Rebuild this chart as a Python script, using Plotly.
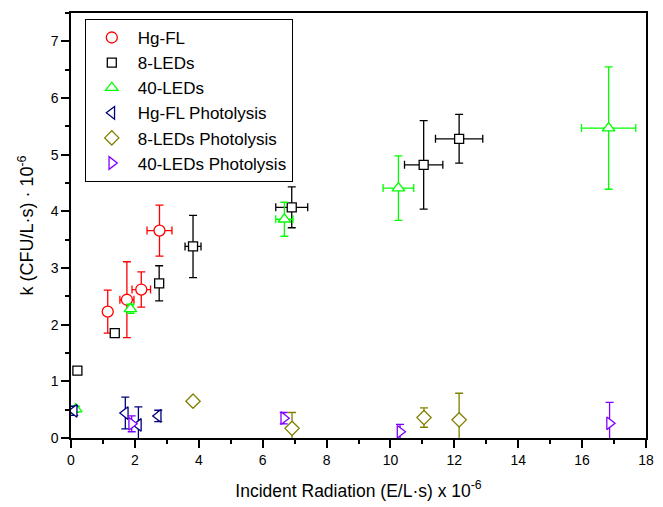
import plotly.graph_objects as go

# Hg-FL
hg_x = [1.15, 1.75, 2.20, 2.77]
hg_y = [2.23, 2.44, 2.62, 3.66]
hg_yerr = [0.38, 0.67, 0.31, 0.45]
hg_xerr = [0.0, 0.22, 0.29, 0.39]

# 8-LEDs
l8_x = [0.20, 1.37, 2.76, 3.82, 6.91, 11.04, 12.15]
l8_y = [1.19, 1.85, 2.73, 3.38, 4.07, 4.82, 5.28]
l8_yerr = [0.05, 0.0, 0.31, 0.55, 0.36, 0.78, 0.43]
l8_xerr = [0.05, 0.0, 0.05, 0.25, 0.50, 0.60, 0.74]

# 40-LEDs
l40_x = [0.15, 1.86, 6.68, 10.25, 16.83]
l40_y = [0.51, 2.28, 3.86, 4.41, 5.47]
l40_yerr = [0.05, 0.08, 0.30, 0.57, 1.08]
l40_xerr = [0.05, 0.08, 0.27, 0.48, 0.85]

# Hg-FL Photolysis
hgp_x = [0.10, 1.70, 2.11, 2.73]
hgp_y = [0.48, 0.44, 0.23, 0.39]
hgp_yerr = [0.08, 0.28, 0.32, 0.10]

# 8-LEDs Photolysis
l8p_x = [3.82, 6.92, 11.05, 12.15]
l8p_y = [0.65, 0.17, 0.36, 0.32]
l8p_yerr = [0.05, 0.28, 0.17, 0.47]

# 40-LEDs Photolysis
l40p_x = [1.90, 6.66, 10.30, 16.86]
l40p_y = [0.25, 0.35, 0.11, 0.26]
l40p_yerr = [0.14, 0.10, 0.13, 0.37]

FONT = "Liberation Sans, Arial, sans-serif"

def trace(name, x, y, yerr, xerr, color, symbol, size):
    t = dict(
        x=x, y=y, name=name, mode="markers",
        marker=dict(symbol=symbol, size=size, color="white",
                    line=dict(color=color, width=1.3)),
        error_y=dict(type="data", array=yerr, visible=True, color=color,
                     thickness=1.3, width=4),
    )
    if xerr is not None:
        t["error_x"] = dict(type="data", array=xerr, visible=True, color=color,
                            thickness=1.3, width=4)
    return go.Scatter(**t)

fig = go.Figure()
fig.add_trace(trace("Hg-FL", hg_x, hg_y, hg_yerr, hg_xerr, "#FF0000", "circle", 11))
fig.add_trace(trace("8-LEDs", l8_x, l8_y, l8_yerr, l8_xerr, "#000000", "square", 9))
fig.add_trace(trace("40-LEDs", l40_x, l40_y, l40_yerr, l40_xerr, "#00FF00", "triangle-up", 11))
fig.add_trace(trace("Hg-FL Photolysis", hgp_x, hgp_y, hgp_yerr, None, "#000080", "triangle-left", 11))
fig.add_trace(trace("8-LEDs Photolysis", l8p_x, l8p_y, l8p_yerr, None, "#808000", "diamond", 11))
fig.add_trace(trace("40-LEDs Photolysis", l40p_x, l40p_y, l40p_yerr, None, "#8000FF", "triangle-right", 11))

axis_common = dict(
    showline=True, linecolor="black", linewidth=1.5, mirror=True,
    showgrid=False, zeroline=False,
    ticks="outside", ticklen=8, tickwidth=1.5, tickcolor="black",
    tickfont=dict(family=FONT, size=14, color="black"),
)

fig.update_layout(
    width=663, height=507,
    margin=dict(l=71, r=9, t=13, b=68),
    paper_bgcolor="white", plot_bgcolor="white",
    font=dict(family=FONT, color="black"),
    showlegend=True,
    legend=dict(x=0.024, y=0.986, xanchor="left", yanchor="top",
                bordercolor="black", borderwidth=1, bgcolor="white",
                font=dict(family=FONT, size=17, color="black"),
                tracegroupgap=0, itemsizing="trace", itemwidth=42),
    xaxis=dict(range=[0, 18], dtick=2, tick0=0,
               minor=dict(dtick=1, ticks="outside", ticklen=4, tickwidth=1.5, tickcolor="black"),
               title=dict(text="Incident Radiation (E/L·s) x 10<sup>-6</sup>",
                          font=dict(family=FONT, size=17.5, color="black"), standoff=18),
               **axis_common),
    yaxis=dict(range=[0, 7.5], dtick=1, tick0=0,
               minor=dict(dtick=0.5, ticks="outside", ticklen=4, tickwidth=1.5, tickcolor="black"),
               title=dict(text="k (CFU/L·s) · 10<sup>-6</sup>",
                          font=dict(family=FONT, size=18, color="black"), standoff=12),
               **axis_common),
)

fig.write_html("out.html")
